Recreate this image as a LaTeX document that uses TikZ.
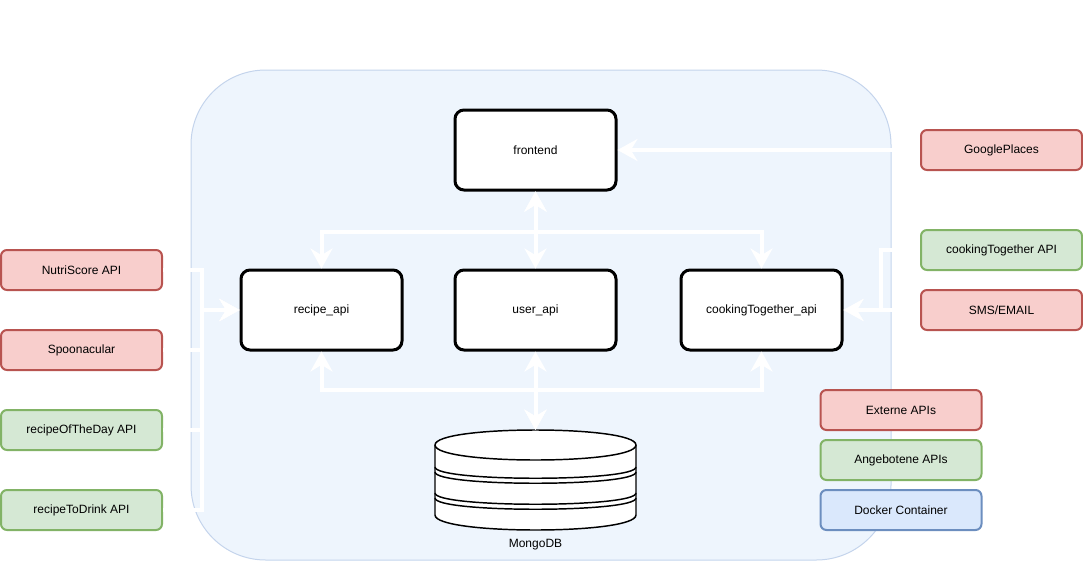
\documentclass[tikz,border=0pt]{standalone}
\usepackage{fontspec}
\setmainfont{Liberation Sans}
\usetikzlibrary{arrows.meta, positioning}
\usepackage{xcolor}
\definecolor{extfill}{HTML}{F8CECC}
\definecolor{extline}{HTML}{B85450}
\definecolor{ownfill}{HTML}{D5E8D4}
\definecolor{ownline}{HTML}{82B366}
\definecolor{dockfill}{HTML}{DAE8FC}
\definecolor{dockline}{HTML}{6C8EBF}
\definecolor{areafill}{RGB}{238,245,253}
\definecolor{arealine}{RGB}{196,212,236}
\def\boxw{120.75pt}

\begin{document}
\begin{tikzpicture}[x=0.75pt,y=-0.75pt]
    \tikzstyle{every node}=[font=\fontsize{9}{11}\selectfont]
    \tikzstyle{service}=[rectangle,rounded corners=6.75pt,draw=black,line width=2.25pt,fill=white,minimum width=\boxw,minimum height=60pt,inner sep=0pt]
    \tikzstyle{api}=[rectangle,rounded corners=4.5pt,line width=1.5pt,minimum width=\boxw,minimum height=30pt,inner sep=0pt]
    \tikzstyle{extern api}=[api,draw=extline,fill=extfill]
    \tikzstyle{own api}=[api,draw=ownline,fill=ownfill]
    \tikzstyle{docker}=[api,draw=dockline,fill=dockfill]
    \tikzstyle{conn}=[draw=white,line width=3pt,arrows={-Stealth[length=15pt,width=16.5pt,inset=5pt]}]
    \tikzstyle{both}=[conn,arrows={Stealth[length=15pt,width=16.5pt,inset=5pt]-Stealth[length=15pt,width=16.5pt,inset=5pt]}]
    \tikzstyle{feed}=[draw=white,line width=3pt]

    \useasboundingbox (0,0) rectangle (1083,561);

    % docker area
    \draw[draw=arealine,fill=areafill,line width=0.75pt,rounded corners=56pt] (191,70) rectangle (891,560);

    % containers
    \node[service] (frontend) at (535.5,150) {frontend};
    \node[service] (recipe) at (321.5,310) {recipe\_api};
    \node[service] (user) at (535.5,310) {user\_api};
    \node[service] (cooking) at (761.5,310) {cookingTogether\_api};
    \node[minimum width=150.75pt,minimum height=75pt,inner sep=0pt] (db) at (535.5,480) {};
    \node (dblabel) at (535.5,545) {MongoDB};

    % database
    \draw[line width=1.1pt,fill=white] (435,445) .. controls (435,425) and (636,425) .. (636,445)
        -- (636,515) .. controls (636,535) and (435,535) .. (435,515) -- cycle;
    \draw[line width=1.1pt] (435,445) .. controls (435,465) and (636,465) .. (636,445);
    \foreach \y in {467,472,493,498}{
        \draw[line width=1.1pt] (435,\y) .. controls (435,\y+15) and (636,\y+15) .. (636,\y);
        }

    % external and offered apis
    \node[extern api] (nutri) at (81.5,270) {NutriScore API};
    \node[extern api] (spoon) at (81.5,350) {Spoonacular};
    \node[own api] (rotd) at (81.5,430) {recipeOfTheDay API};
    \node[own api] (rtd) at (81.5,510) {recipeToDrink API};
    \node[extern api] (google) at (1001.5,150) {GooglePlaces};
    \node[own api] (ctapi) at (1001.5,250) {cookingTogether API};
    \node[extern api] (sms) at (1001.5,310) {SMS/EMAIL};

    % legend
    \node[extern api] (legext) at (901,410) {Externe APIs};
    \node[own api] (legown) at (901,460) {Angebotene APIs};
    \node[docker] (legdock) at (901,510) {Docker Container};

    % connections
    \foreach \n in {nutri,spoon,rotd,rtd}{
        \draw[conn] (\n.east) -- ++(39,0) |- (recipe.west);
        }
    \draw[conn] (google.west) -- (frontend.east);
    \draw[conn] (sms.west) -- (cooking.east);
    \draw[conn] (ctapi.west) -- ++(-39,0) |- (cooking.east);

    \draw[both] (frontend.south) -- (user.north);
    \draw[both] (frontend.south) -- ++(0,40) -| (recipe.north);
    \draw[both] (frontend.south) -- ++(0,40) -| (cooking.north);

    \draw[both] (db.north) -- (user.south);
    \draw[both] (db.north) -- ++(0,-40) -| (recipe.south);
    \draw[both] (db.north) -- ++(0,-40) -| (cooking.south);
\end{tikzpicture}
\end{document}
